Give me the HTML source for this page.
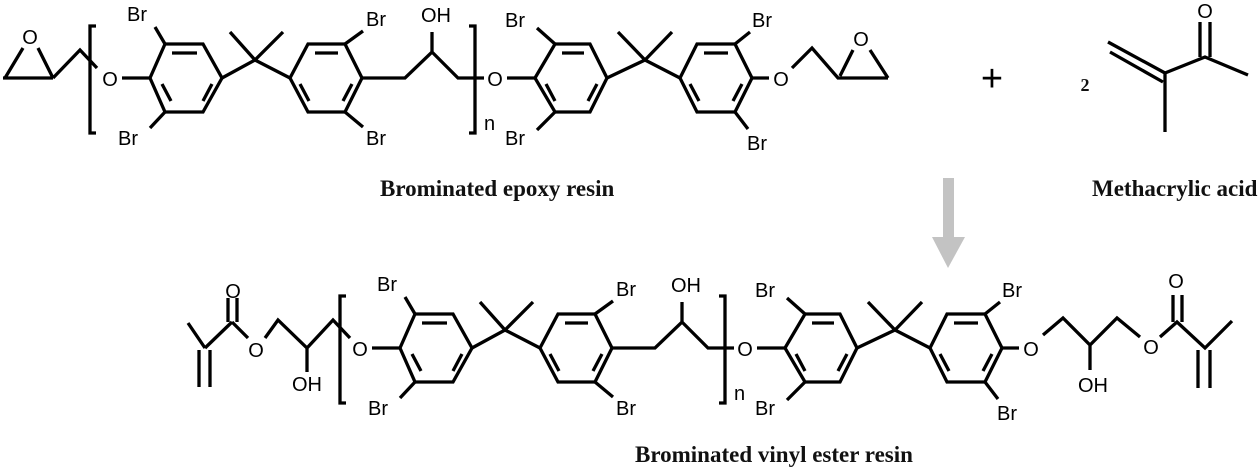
<!DOCTYPE html>
<html><head><meta charset="utf-8"><style>
html,body{margin:0;padding:0;background:#fff;}
svg{display:block;}
.b{stroke:#000;stroke-width:3.3;fill:none;stroke-linecap:butt;stroke-linejoin:miter;}
.t{font-family:"Liberation Sans",sans-serif;font-size:20px;fill:#000;}
.c{text-anchor:middle;}
.lab{font-family:"Liberation Serif",serif;font-weight:bold;font-size:23px;fill:#111;}
</style></head><body>
<svg width="1260" height="469" viewBox="0 0 1260 469" xmlns="http://www.w3.org/2000/svg">
<rect width="1260" height="469" fill="#fff"/>

<!-- top left epoxide -->
<path class="b" d="M3,78 H53 M5,78 L23,48 M38,48 L53,78 M53,78 L80,50 L97,68"/>
<text class="t c" x="30" y="44">O</text>

<g id="core">
<path class="b" d="M96,26 H90 V133 H96"/>
<text class="t c" x="110" y="86">O</text>
<path class="b" d="M122,78 H150"/>
<polygon class="b" points="150,78 165,44 203,44 222,78 203,112 165,112"/>
<path class="b" d="M172,53 H197 M162,84 L171,101 M212,84 L203,101"/>
<path class="b" d="M165,44 L155,27 M165,112 L150,128"/>
<text class="t" x="127" y="21">Br</text>
<text class="t" x="118" y="145">Br</text>
<path class="b" d="M222,78 L255,60 L290,78 M255,60 L230,32 M255,60 L283,32"/>
<polygon class="b" points="290,78 308,44 345,44 362,78 345,112 308,112"/>
<path class="b" d="M315,53 H338 M300,84 L309,101 M352,84 L343,101"/>
<path class="b" d="M345,44 L363,31 M345,112 L363,127"/>
<text class="t" x="366" y="26">Br</text>
<text class="t" x="366" y="145">Br</text>
<path class="b" d="M362,78 H405 L432,52 L458,78 H484 M432,52 V32"/>
<text class="t" x="421" y="22">OH</text>
<path class="b" d="M469,26 H475 V133 H469"/>
<text class="t" x="484" y="130">n</text>
<text class="t c" x="495" y="86">O</text>
<path class="b" d="M507,78 H535"/>
<polygon class="b" points="535,78 555,44 590,44 607,78 590,112 555,112"/>
<path class="b" d="M562,53 H584 M546,84 L555,101 M597,84 L588,101"/>
<path class="b" d="M555,44 L537,28 M555,112 L537,130"/>
<text class="t" x="505" y="27">Br</text>
<text class="t" x="505" y="145">Br</text>
<path class="b" d="M607,78 L645,60 L680,78 M645,60 L618,32 M645,60 L672,32"/>
<polygon class="b" points="680,78 697,44 735,44 752,78 735,112 697,112"/>
<path class="b" d="M704,53 H728 M690,84 L699,101 M742,84 L733,101"/>
<path class="b" d="M735,44 L750,32 M735,112 L748,129"/>
<text class="t" x="752" y="27">Br</text>
<text class="t" x="747" y="150">Br</text>
<path class="b" d="M752,78 H769"/>
<text class="t c" x="781" y="86">O</text>
</g>

<!-- top right epoxide -->
<path class="b" d="M792,68 L812,48 L838,78 H888 M840,76 L853,50 M870,50 L888,78"/>
<text class="t c" x="861" y="46">O</text>

<!-- plus -->
<text x="992" y="91" text-anchor="middle" style="font-family:'Liberation Sans',sans-serif;font-size:38px;">+</text>
<text x="1085" y="91" text-anchor="middle" class="lab" style="font-size:18px">2</text>

<!-- methacrylic acid -->
<path class="b" d="M1108,42 L1165,73 M1110,52 L1163,82 M1165,73 L1205,57 L1248,75 M1200,57 V22 M1210,57 V22 M1165,73 V132"/>
<text class="t c" x="1205" y="18">O</text>
<text class="lab" x="1092" y="196">Methacrylic acid</text>
<text class="lab" x="380" y="196">Brominated epoxy resin</text>

<!-- arrow -->
<rect x="943" y="178" width="11" height="60" fill="#c3c3c3"/>
<polygon points="932,237 965,237 948,268" fill="#c3c3c3"/>

<!-- bottom core -->
<g transform="translate(250,270)">
<path class="b" d="M96,26 H90 V133 H96"/>
<text class="t c" x="110" y="86">O</text>
<path class="b" d="M122,78 H150"/>
<polygon class="b" points="150,78 165,44 203,44 222,78 203,112 165,112"/>
<path class="b" d="M172,53 H197 M162,84 L171,101 M212,84 L203,101"/>
<path class="b" d="M165,44 L155,27 M165,112 L150,128"/>
<text class="t" x="127" y="21">Br</text>
<text class="t" x="118" y="145">Br</text>
<path class="b" d="M222,78 L255,60 L290,78 M255,60 L230,32 M255,60 L283,32"/>
<polygon class="b" points="290,78 308,44 345,44 362,78 345,112 308,112"/>
<path class="b" d="M315,53 H338 M300,84 L309,101 M352,84 L343,101"/>
<path class="b" d="M345,44 L363,31 M345,112 L363,127"/>
<text class="t" x="366" y="26">Br</text>
<text class="t" x="366" y="145">Br</text>
<path class="b" d="M362,78 H405 L432,52 L458,78 H484 M432,52 V32"/>
<text class="t" x="421" y="22">OH</text>
<path class="b" d="M469,26 H475 V133 H469"/>
<text class="t" x="484" y="130">n</text>
<text class="t c" x="495" y="86">O</text>
<path class="b" d="M507,78 H535"/>
<polygon class="b" points="535,78 555,44 590,44 607,78 590,112 555,112"/>
<path class="b" d="M562,53 H584 M546,84 L555,101 M597,84 L588,101"/>
<path class="b" d="M555,44 L537,28 M555,112 L537,130"/>
<text class="t" x="505" y="27">Br</text>
<text class="t" x="505" y="145">Br</text>
<path class="b" d="M607,78 L645,60 L680,78 M645,60 L618,32 M645,60 L672,32"/>
<polygon class="b" points="680,78 697,44 735,44 752,78 735,112 697,112"/>
<path class="b" d="M704,53 H728 M690,84 L699,101 M742,84 L733,101"/>
<path class="b" d="M735,44 L750,32 M735,112 L748,129"/>
<text class="t" x="752" y="27">Br</text>
<text class="t" x="747" y="150">Br</text>
<path class="b" d="M752,78 H769"/>
<text class="t c" x="781" y="86">O</text>
</g>

<!-- bottom left methacrylate -->
<path class="b" d="M188,323 L205,348 M199,350 V387 M210,350 V387 M205,348 L232,322 M228,322 V298 M237,322 V298 M232,322 L248,338 M265,338 L278,320 L307,348 L333,320 L350,338 M307,348 V372"/>
<text class="t c" x="233" y="298">O</text>
<text class="t c" x="256" y="357">O</text>
<text class="t c" x="307" y="391">OH</text>

<!-- bottom right methacrylate -->
<path class="b" d="M1043,335 L1063,318 L1090,345 L1117,318 L1140,337 M1090,345 V370 M1160,337 L1177,322 L1205,348 L1232,321 M1173,322 V295 M1182,322 V295 M1198,350 V388 M1210,350 V388"/>
<text class="t c" x="1151" y="354">O</text>
<text class="t c" x="1176" y="288">O</text>
<text class="t c" x="1093" y="392">OH</text>

<text class="lab" x="635" y="462">Brominated vinyl ester resin</text>
</svg>
</body></html>
